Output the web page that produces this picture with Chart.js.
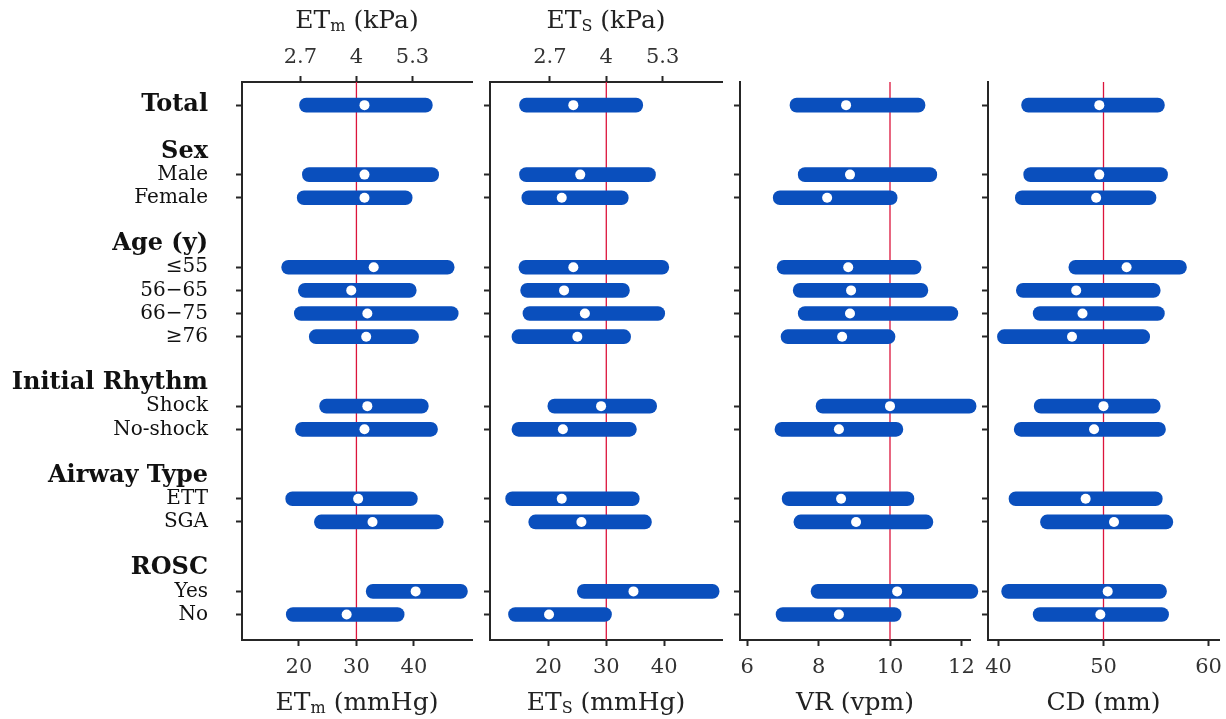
<!DOCTYPE html>
<html>
<head>
<meta charset="utf-8">
<script src="https://cdn.jsdelivr.net/npm/chart.js@4.4.0/dist/chart.umd.min.js"></script>
<style>
  body { margin: 0; background: #fff; width: 1226px; height: 719px; overflow: hidden; position: relative; }
  canvas { position: absolute; top: 0; }
</style>
</head>
<body>
<canvas id="c0" width="480" height="719" style="left:0px"></canvas>
<canvas id="c1" width="250" height="719" style="left:480px"></canvas>
<canvas id="c2" width="250" height="719" style="left:730px"></canvas>
<canvas id="c3" width="248" height="719" style="left:978px"></canvas>
<script>
// rows (top to bottom); 'Total' first, then the groups
const categories = ['Total', 'Male', 'Female', '≤55', '56−65', '66−75', '≥76', 'Shock', 'No-shock', 'ETT', 'SGA', 'Yes', 'No'];
const groupHeaders = ['Sex', 'Age (y)', 'Initial Rhythm', 'Airway Type', 'ROSC'];
const groupSizes = [2, 4, 2, 2, 2];

// ET_m (mmHg): range low / median / high
const etmLow  = [20.1, 20.6, 19.7, 17.0, 19.9, 19.2, 21.8, 23.6, 19.4, 17.7, 22.7, 31.7, 17.8];
const etmMed  = [31.4, 31.4, 31.4, 33.0, 29.1, 31.9, 31.7, 31.9, 31.4, 30.3, 32.8, 40.3, 28.3];
const etmHigh = [43.2, 44.3, 39.7, 47.0, 40.4, 47.7, 40.8, 42.5, 44.1, 40.6, 45.1, 49.3, 38.3];

// ET_S (mmHg)
const etsLow  = [15.0, 15.0, 15.4, 14.9, 15.2, 15.6, 13.7, 19.9, 13.7, 12.6, 16.6, 25.0, 13.1];
const etsMed  = [24.3, 25.5, 22.3, 24.3, 22.7, 26.3, 25.0, 29.1, 22.5, 22.3, 25.7, 34.7, 20.1];
const etsHigh = [36.3, 38.5, 33.8, 40.8, 34.0, 40.1, 34.2, 38.7, 35.2, 35.7, 37.8, 49.5, 30.9];

// VR (vpm)
const vrLow  = [7.20, 7.43, 6.73, 6.84, 7.29, 7.43, 6.95, 7.93, 6.78, 6.98, 7.31, 7.79, 6.81];
const vrMed  = [8.77, 8.88, 8.24, 8.83, 8.91, 8.88, 8.66, 10.0, 8.57, 8.63, 9.05, 10.20, 8.57];
const vrHigh = [10.98, 11.31, 10.20, 10.87, 11.06, 11.90, 10.14, 12.41, 10.36, 10.67, 11.20, 12.46, 10.31];

// CD (mm)
const cdLow  = [42.2, 42.4, 41.6, 46.7, 41.7, 43.3, 39.9, 43.4, 41.5, 41.0, 44.0, 40.3, 43.3];
const cdMed  = [49.6, 49.6, 49.3, 52.2, 47.4, 48.0, 47.0, 50.0, 49.1, 48.3, 51.0, 50.4, 49.7];
const cdHigh = [55.8, 56.1, 55.0, 57.9, 55.4, 55.8, 54.4, 55.4, 55.9, 55.6, 56.6, 56.0, 56.2];

// tick labels
const mmHgTicks = [20, 30, 40];
const kPaTicks = [2.7, 4, 5.3];
const vrTicks = [6, 8, 10, 12];
const cdTicks = [40, 50, 60];
const refValues = [30, 30, 10, 50];
const KPA_TO_MMHG = 7.5;

const BLUE = '#0a4fbd';
const RED = '#dc143c';
const AXIS = '#262626';
const LABEL_FONT = { family: 'DejaVu Serif', size: 20 };
const BOLD_FONT = { family: 'DejaVu Serif', size: 24, weight: 'bold' };
const TICK_FONT = { family: 'DejaVu Serif', size: 21 };
const TITLE_FONT = '25px "DejaVu Serif"';
const SUB_FONT = '16px "DejaVu Serif"';
const Y_MIN = -1, Y_MAX = 23.1;

// build row layout: blank row + header row before every group
const rows = [{ label: 'Total', bold: true, tick: true, pos: 0 }];
const rowPos = [0];
let pos = 0, k = 1;
groupHeaders.forEach((h, g) => {
  pos += 2;
  rows.push({ label: h, bold: true, tick: false, pos: pos });
  for (let j = 0; j < groupSizes[g]; j++) {
    pos += 1;
    rows.push({ label: categories[k], bold: false, tick: true, pos: pos });
    rowPos.push(pos);
    k++;
  }
});
function rowAt(v) {
  return rows.find(r => Math.abs(r.pos - v) < 0.01) || { label: '', bold: false, tick: false };
}

const panels = [
  { id: 'c0', low: etmLow, med: etmMed, high: etmHigh, min: 10.1, max: 50.1, ticks: mmHgTicks, top: true,
    yWidth: 242, padRight: 8, labels: true,
    topTitle: [{ t: 'ET' }, { t: 'm', sub: true }, { t: ' (kPa)' }],
    bottomTitle: [{ t: 'ET' }, { t: 'm', sub: true }, { t: ' (mmHg)' }] },
  { id: 'c1', low: etsLow, med: etsMed, high: etsHigh, min: 9.9, max: 50.0, ticks: mmHgTicks, top: true,
    yWidth: 10, padRight: 8, labels: false,
    topTitle: [{ t: 'ET' }, { t: 'S', sub: true }, { t: ' (kPa)' }],
    bottomTitle: [{ t: 'ET' }, { t: 'S', sub: true }, { t: ' (mmHg)' }] },
  { id: 'c2', low: vrLow, med: vrMed, high: vrHigh, min: 5.8, max: 12.24, ticks: vrTicks, top: false,
    yWidth: 10, padRight: 10, labels: false,
    bottomTitle: [{ t: 'VR (vpm)' }] },
  { id: 'c3', low: cdLow, med: cdMed, high: cdHigh, min: 39.0, max: 61.0, ticks: cdTicks, top: false,
    yWidth: 10, padRight: 7, labels: false,
    bottomTitle: [{ t: 'CD (mm)' }] }
];

function drawTitle(ctx, parts, cx, cy) {
  let w = 0;
  parts.forEach(p => { ctx.font = p.sub ? SUB_FONT : TITLE_FONT; w += ctx.measureText(p.t).width; });
  let x = cx - w / 2;
  ctx.textBaseline = 'middle';
  ctx.textAlign = 'left';
  ctx.fillStyle = '#222';
  parts.forEach(p => {
    ctx.font = p.sub ? SUB_FONT : TITLE_FONT;
    ctx.fillText(p.t, x, cy + (p.sub ? 6 : 0));
    x += ctx.measureText(p.t).width;
  });
}

// keep the plot area where the layout puts it (no extra room for edge labels)
function fixHeight(h) {
  return s => { s.height = h; s.paddingLeft = 0; s.paddingRight = 0; };
}

panels.forEach((p, i) => {
  const titles = {
    id: 'titles',
    afterDraw(chart) {
      const ctx = chart.ctx;
      const cx = (chart.chartArea.left + chart.chartArea.right) / 2;
      ctx.save();
      if (p.topTitle) drawTitle(ctx, p.topTitle, cx, 21);
      drawTitle(ctx, p.bottomTitle, cx, 703);
      ctx.restore();
    }
  };

  const scales = {
    y: {
      type: 'linear', reverse: true, min: Y_MIN, max: Y_MAX, offset: false,
      afterBuildTicks: s => { s.ticks = rows.map(r => ({ value: r.pos })); },
      afterFit: s => { s.width = p.yWidth; s.paddingTop = 0; s.paddingBottom = 0; },
      grid: {
        drawOnChartArea: false, drawTicks: true, tickLength: 6, tickWidth: 2, offset: false,
        tickColor: c => (c.tick && rowAt(c.tick.value).tick) ? AXIS : 'rgba(0,0,0,0)'
      },
      border: { display: true, color: AXIS, width: 2 },
      ticks: {
        display: p.labels, autoSkip: false, padding: 28, color: '#111',
        callback: v => rowAt(v).label,
        font: c => (c.tick && rowAt(c.tick.value).bold) ? BOLD_FONT : LABEL_FONT
      }
    },
    x: {
      type: 'linear', position: 'bottom', min: p.min, max: p.max,
      afterBuildTicks: s => { s.ticks = p.ticks.map(v => ({ value: v })); },
      afterFit: fixHeight(79),
      grid: { drawOnChartArea: false, tickLength: 6, tickWidth: 2, tickColor: AXIS },
      border: { display: true, color: AXIS, width: 2 },
      ticks: { color: '#333', font: TICK_FONT, padding: 9, maxRotation: 0, callback: v => String(v) }
    }
  };
  if (p.top) {
    // second axis on top: same mmHg scale, ticks labelled in kPa
    scales.x2 = {
      type: 'linear', position: 'top', min: p.min, max: p.max,
      afterBuildTicks: s => { s.ticks = kPaTicks.map(v => ({ value: v * KPA_TO_MMHG })); },
      afterFit: fixHeight(82),
      grid: { drawOnChartArea: false, tickLength: 6, tickWidth: 2, tickColor: AXIS },
      border: { display: true, color: AXIS, width: 2 },
      ticks: { color: '#333', font: TICK_FONT, padding: 6, maxRotation: 0, callback: (v, idx) => String(kPaTicks[idx]) }
    };
  }

  new Chart(document.getElementById(p.id), {
    type: 'bar',
    data: {
      datasets: [
        {
          type: 'line', order: 3,
          data: [{ x: refValues[i], y: Y_MIN }, { x: refValues[i], y: Y_MAX }],
          borderColor: RED, borderWidth: 1.3, pointRadius: 0
        },
        {
          type: 'bar', order: 2, clip: false,
          data: categories.map((c, j) => ({ x: [p.low[j], p.high[j]], y: rowPos[j] })),
          backgroundColor: BLUE, barThickness: 14, borderRadius: 7, borderSkipped: false
        },
        {
          type: 'scatter', order: 1, clip: false,
          data: categories.map((c, j) => ({ x: p.med[j], y: rowPos[j] })),
          pointRadius: 5, backgroundColor: '#fff', borderWidth: 0
        }
      ]
    },
    options: {
      indexAxis: 'y',
      responsive: false,
      animation: false,
      layout: { padding: { top: p.top ? 0 : 82, right: p.padRight, left: 0, bottom: 0 } },
      plugins: { legend: { display: false }, tooltip: { enabled: false } },
      scales: scales
    },
    plugins: [titles]
  });
});
</script>
</body>
</html>
